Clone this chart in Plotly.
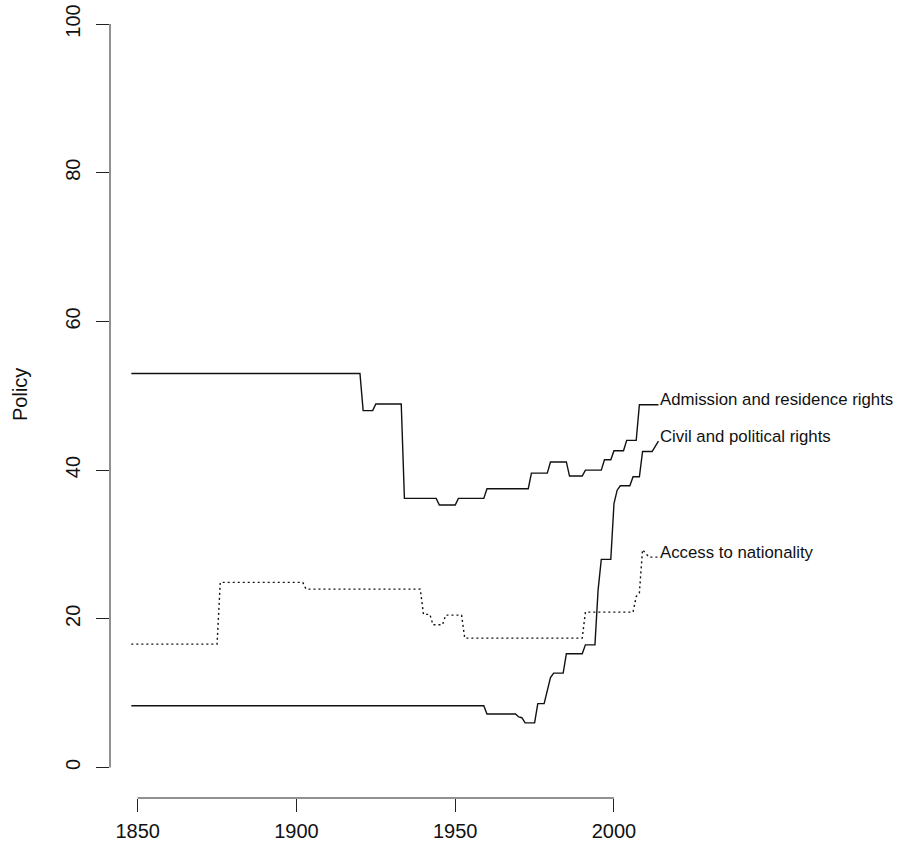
import plotly.graph_objects as go

# ---- data ----
adm_years = [1848, 1920, 1921, 1924, 1925, 1933, 1934, 1944, 1945, 1950, 1951, 1959, 1960,
             1973, 1974, 1979, 1980, 1985, 1986, 1990, 1991, 1996, 1997, 1999, 2000, 2003,
             2004, 2007, 2008, 2014]
adm_vals = [53.0, 53.0, 48.0, 48.0, 48.9, 48.9, 36.2, 36.2, 35.3, 35.3, 36.2, 36.2, 37.5,
            37.5, 39.6, 39.6, 41.1, 41.1, 39.2, 39.2, 40.0, 40.0, 41.4, 41.4, 42.6, 42.6,
            44.0, 44.0, 48.8, 48.8]

civ_years = [1848, 1959, 1960, 1969, 1970, 1971, 1972, 1975, 1976, 1978, 1980, 1981, 1984,
             1985, 1990, 1991, 1994, 1995, 1996, 1999, 2000, 2001, 2002, 2005, 2006, 2008,
             2009, 2012, 2013, 2014]
civ_vals = [8.3, 8.3, 7.2, 7.2, 6.8, 6.7, 6.0, 6.0, 8.6, 8.6, 12.1, 12.7, 12.7, 15.3, 15.3,
            16.5, 16.5, 23.9, 28.0, 28.0, 35.5, 37.3, 37.9, 37.9, 39.1, 39.1, 42.5, 42.5,
            43.2, 43.9]

acc_years = [1848, 1875, 1876, 1902, 1903, 1939, 1940, 1942, 1943, 1946, 1947, 1952, 1953,
             1990, 1991, 2006, 2007, 2008, 2009, 2010, 2011, 2014]
acc_vals = [16.6, 16.6, 24.9, 24.9, 24.0, 24.0, 20.6, 20.6, 19.2, 19.2, 20.5, 20.5, 17.4,
            17.4, 20.9, 20.9, 23.0, 23.5, 29.3, 28.8, 28.3, 28.3]

series_names = ["Admission and residence rights", "Civil and political rights",
                "Access to nationality"]
x_ticks = [1850, 1900, 1950, 2000]
y_ticks = [0, 20, 40, 60, 80, 100]
y_title = "Policy"

FONT = "Liberation Sans, Arial, Helvetica, sans-serif"

fig = go.Figure()
series = [(adm_years, adm_vals, "solid"),
          (civ_years, civ_vals, "solid"),
          (acc_years, acc_vals, "2px,3px")]
for (xs, ys, dash), name in zip(series, series_names):
    fig.add_trace(go.Scatter(x=xs, y=ys, mode="lines", name=name,
                             line=dict(color="#111", width=1.4, dash=dash),
                             showlegend=False, hoverinfo="skip"))
    fig.add_annotation(x=xs[-1], y=ys[-1], text=name, showarrow=False,
                       xanchor="left", yanchor="middle", xshift=0, yshift=5,
                       font=dict(family=FONT, size=16.8, color="#111"))

# R-style partial axis lines
fig.add_shape(type="line", xref="x", yref="paper", x0=x_ticks[0], x1=x_ticks[-1], y0=0, y1=0,
              line=dict(color="#222", width=1))
fig.add_shape(type="line", xref="paper", yref="y", x0=0, x1=0, y0=y_ticks[0], y1=y_ticks[-1],
              line=dict(color="#222", width=1))

fig.add_annotation(xref="paper", yref="paper", x=0, y=0.505, text=y_title, showarrow=False,
                   textangle=-90, xanchor="center", yanchor="middle", xshift=-90,
                   font=dict(family=FONT, size=20, color="#111"))

fig.update_layout(
    width=899, height=849,
    margin=dict(l=110, r=213, t=0, b=51),
    paper_bgcolor="white", plot_bgcolor="white",
    xaxis=dict(range=[1841.28, 2022.68], tickvals=x_ticks, ticktext=[str(v) for v in x_ticks],
               ticks="outside", ticklen=13, tickwidth=1, tickcolor="#222", automargin=False,
               showline=False, showgrid=False, zeroline=False,
               tickfont=dict(family=FONT, size=20, color="#111"), ticklabelstandoff=2),
    yaxis=dict(range=[-4.10, 103.23], tickvals=y_ticks, ticktext=[str(v) for v in y_ticks],
               ticks="outside", ticklen=13, tickwidth=1, tickcolor="#222", automargin=False,
               showline=False, showgrid=False, zeroline=False, tickangle=-90,
               tickfont=dict(family=FONT, size=20, color="#111"), ticklabelstandoff=8),
)

fig.write_html("out.html", config={"displayModeBar": False},
               post_script="document.body.style.margin='0';")
